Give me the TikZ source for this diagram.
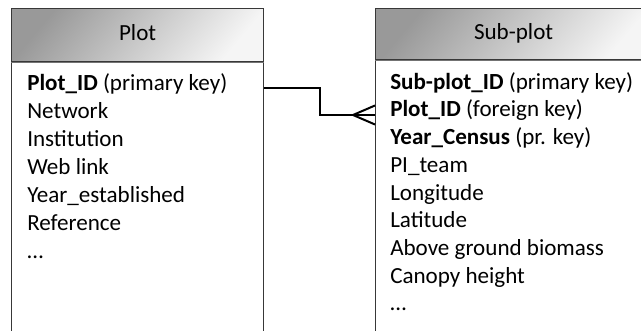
\documentclass[tikz,border=0pt]{standalone}
\usepackage{fontspec}
\setmainfont{Carlito}
\usetikzlibrary{positioning, calc}

\begin{document}
\begin{tikzpicture}[x=0.75pt, y=-0.75pt, font=\fontsize{17.3}{20.9}\selectfont,
    head/.style={draw=black!78, line width=0.9pt, top color=black!40,
      bottom color=black!4, shading angle=50, minimum height=39.75pt,
      text height=12pt, text depth=4.5pt, anchor=north west, inner sep=0},
    table/.style={draw=black!78, line width=0.9pt, minimum height=230pt,
      anchor=north, inner sep=0},
    row/.style={anchor=base west, inner sep=0},
    link/.style={line width=1.5pt}]

  \clip (0,0) rectangle (641,331);

  % Plot table
  \node[head, minimum width=189pt] (plot) at (11,8) {Plot};
  \node[table, minimum width=189pt, below=0pt of plot] (plotbody) {};
  \draw[black!55, line width=0.9pt] (plot.south west) -- (plot.south east);
  \foreach \t [count=\i] in {{\textbf{Plot\_ID} (primary key)}, Network,
      Institution, Web link, Year\_established, Reference, \ldots}
    \node[row] (p\i) at (27,{90.7+27.9*(\i-1)}) {\t};

  % Sub-plot table
  \node[head, minimum width=207pt, minimum height=38.25pt] (sub) at (375,8) {Sub-plot};
  \node[table, minimum width=207pt, below=0pt of sub] (subbody) {};
  \draw[black!55, line width=0.9pt] (sub.south west) -- (sub.south east);
  \foreach \t [count=\i] in {{\textbf{Sub-plot\_ID} (primary key)},
      {\textbf{Plot\_ID} (foreign key)}, {\textbf{Year\_Census} (pr. key)},
      PI\_team, Longitude, Latitude, Above ground biomass, Canopy height, \ldots}
    \node[row] (s\i) at (390,{89.3+27.7*(\i-1)}) {\t};

  % one-to-many link
  \coordinate (pk) at ([yshift=2.2pt]p1.base -| plotbody.east);
  \coordinate (fk) at ([yshift=1.5pt]s2.base -| subbody.west);
  \draw[link] (pk) -| ($(pk)!.5!(fk)$) |- (fk);
  \draw[link] ($(fk)+(-22,0)$) -- ($(fk)+(0,-9.5)$);
  \draw[link] ($(fk)+(-22,0)$) -- ($(fk)+(0,9.5)$);
\end{tikzpicture}
\end{document}
